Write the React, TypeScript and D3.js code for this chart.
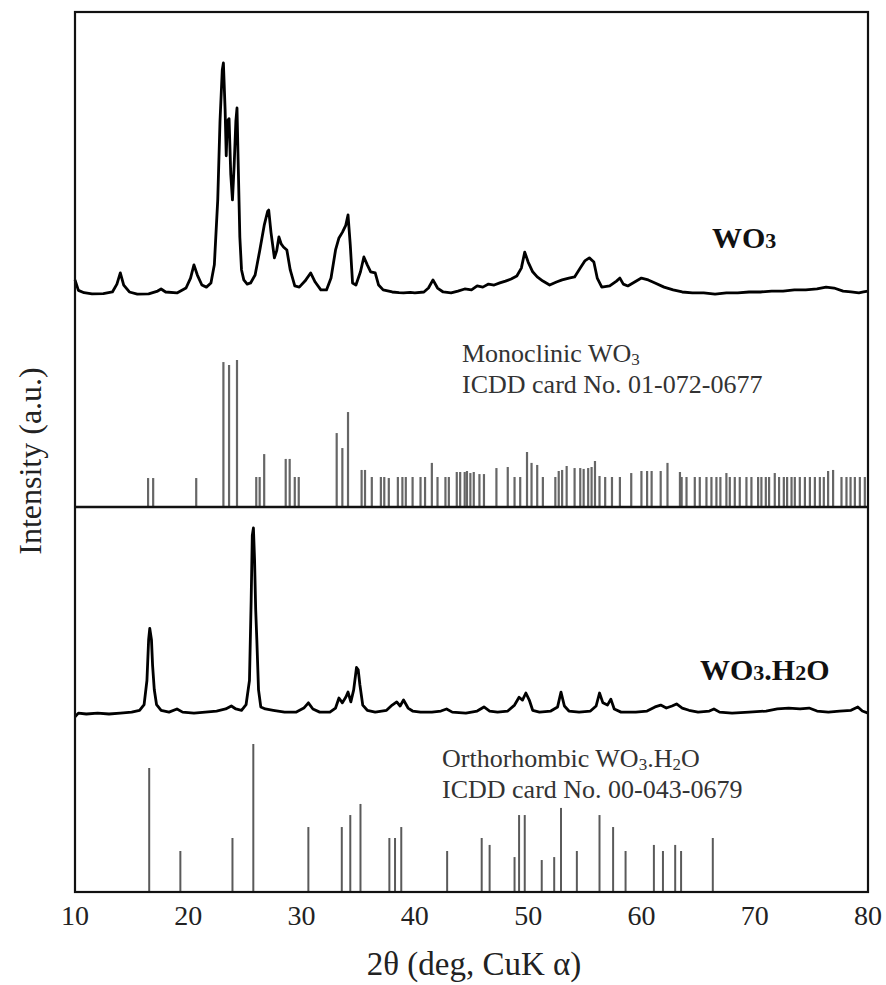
import React from "react";
import * as d3 from "d3";

// ---------- DATA ----------
const xTicks = [10, 20, 30, 40, 50, 60, 70, 80];

// Measured WO3 pattern (2θ, a.u.)
const wo3Theta = [10.0, 10.3, 10.8, 11.5, 12.5, 13.3, 13.7, 14.0, 14.3, 14.8, 15.5, 16.5, 17.3, 17.6, 18.0, 19.0, 19.8, 20.2, 20.5, 20.8, 21.2, 21.6, 22.0, 22.3, 22.6, 22.8, 23.0, 23.1, 23.25, 23.35, 23.45, 23.6, 23.75, 23.9, 24.05, 24.2, 24.3, 24.4, 24.55, 24.7, 24.9, 25.2, 25.5, 25.9, 26.3, 26.7, 27.0, 27.1, 27.3, 27.6, 27.8, 28.0, 28.2, 28.4, 28.7, 29.0, 29.4, 29.8, 30.3, 30.8, 31.2, 31.7, 32.2, 32.6, 33.0, 33.3, 33.6, 33.9, 34.1, 34.3, 34.5, 34.8, 35.2, 35.5, 35.8, 36.1, 36.5, 36.8, 37.2, 38.0, 38.6, 39.0, 39.6, 40.0, 40.8, 41.2, 41.6, 42.0, 42.5, 43.2, 43.8, 44.4, 45.0, 45.5, 46.0, 46.5, 47.0, 47.5, 48.0, 48.5, 49.0, 49.4, 49.7, 50.0, 50.4, 50.8, 51.3, 51.9, 52.5, 53.0, 53.6, 54.1, 54.6, 55.0, 55.4, 55.8, 56.1, 56.5, 57.2, 57.8, 58.1, 58.4, 58.8, 59.4, 60.0, 60.6, 61.2, 62.0, 62.8, 63.6, 64.5, 65.5, 66.5, 67.5, 68.5, 69.5, 70.5, 71.5, 72.5, 73.5, 74.5, 75.5, 76.3, 77.0, 77.8, 78.5, 79.2, 79.6, 80.0];
const wo3Intensity = [6.5, 2, 1, 0.5, 0.6, 1.3, 4.7, 9.5, 4.3, 1.3, 0.4, 0.5, 1.7, 2.6, 1.3, 0.9, 3, 7.3, 13, 8.6, 4.3, 3.4, 5.2, 13, 41, 75, 97, 100, 80, 60, 75, 76, 52, 41, 56, 75, 80.6, 58, 25, 10.8, 6.5, 4.7, 5.2, 8.6, 19, 30, 36, 36.6, 27, 16, 19, 25, 22, 20.7, 19.4, 10.8, 3.9, 3.4, 6, 9.5, 5.6, 2.2, 2.2, 7.3, 19.4, 24.6, 27, 30, 34.5, 21.5, 5.2, 4.3, 10, 16.4, 13, 10, 9.5, 4.3, 2.2, 1.3, 1.0, 0.9, 1.1, 0.9, 1.3, 3, 6.5, 3, 1.3, 0.9, 1.7, 2.6, 2.2, 3.9, 3.4, 4.7, 4.3, 5.2, 6, 6.9, 8.2, 11.6, 18.5, 14.2, 10, 7.8, 6, 4.3, 5.6, 6.5, 7.3, 7.8, 11.6, 14.7, 16, 14.2, 7.3, 3.4, 3.9, 6, 7.3, 4.7, 3.9, 5.6, 7.3, 6.5, 5.2, 3.4, 2.2, 1.3, 0.9, 0.9, 0.4, 0.9, 0.9, 1.3, 1.3, 1.7, 1.7, 2.2, 2.2, 2.6, 3.4, 3, 1.7, 1.3, 0.9, 1.3, 1.7];

// Monoclinic WO3 reference (ICDD 01-072-0677)
const monoTheta = [16.45, 16.9, 20.7, 23.1, 23.6, 24.3, 26.0, 26.3, 26.7, 28.6, 28.95, 29.4, 29.75, 33.1, 33.6, 34.1, 35.3, 35.6, 36.2, 37.0, 37.3, 37.7, 38.5, 38.9, 39.2, 39.8, 40.5, 40.9, 41.5, 42.0, 42.7, 43.0, 43.7, 44.0, 44.4, 44.6, 44.9, 45.2, 45.7, 46.1, 47.2, 48.2, 48.8, 49.3, 49.9, 50.3, 50.8, 51.3, 52.4, 52.7, 53.0, 53.4, 54.1, 54.6, 54.9, 55.3, 55.6, 55.9, 56.3, 56.8, 57.4, 58.1, 59.1, 60.0, 60.5, 60.9, 61.7, 62.3, 63.4, 63.55, 63.98, 64.71, 65.15, 65.74, 66.18, 66.62, 66.97, 67.5, 67.8, 68.24, 68.68, 69.27, 69.71, 70.3, 70.59, 70.98, 71.27, 71.77, 72.15, 72.57, 72.86, 73.25, 73.54, 73.98, 74.43, 74.87, 75.31, 75.75, 76.1, 76.48, 76.92, 77.66, 78.1, 78.46, 78.84, 79.28, 79.72];
const monoIntensity = [19.7, 19.7, 19.7, 98.6, 96.6, 100, 20.4, 20.4, 36, 32.7, 32.7, 20.4, 20.4, 50.3, 40.1, 64.6, 25.2, 25.2, 20.4, 20.4, 20.4, 19.7, 20.4, 20.4, 20.4, 20.4, 20.4, 20.4, 30, 20.4, 20.4, 20.4, 23.8, 23.8, 23.8, 24.5, 23.1, 23.8, 22.4, 22.4, 26.5, 27.2, 20.4, 20.4, 37.4, 30, 28.6, 20.4, 20.4, 24.5, 25.2, 27.9, 26.5, 26.5, 25.9, 26.5, 27.2, 31.3, 21.1, 20.4, 20.4, 20.4, 23.1, 24.5, 24.5, 24.5, 24.5, 30, 23.8, 20.4, 20.4, 20.4, 20.4, 20.4, 20.4, 20.4, 20.4, 23.1, 20.4, 20.4, 20.4, 20.4, 20.4, 20.4, 20.4, 20.4, 20.4, 23.1, 20.4, 20.4, 20.4, 20.4, 20.4, 20.4, 20.4, 20.4, 20.4, 20.4, 20.4, 24.5, 25.2, 20.4, 20.4, 20.4, 20.4, 20.4, 20.4];

// Measured WO3.H2O pattern (2θ, a.u.)
const hydTheta = [10.0, 10.3, 11.0, 12.0, 13.0, 14.0, 15.0, 15.7, 16.1, 16.35, 16.5, 16.6, 16.75, 16.85, 17.0, 17.2, 17.6, 18.3, 19.0, 19.5, 20.5, 21.5, 22.5, 23.3, 23.8, 24.2, 24.7, 25.1, 25.4, 25.55, 25.65, 25.75, 25.85, 25.95, 26.05, 26.2, 26.4, 26.8, 27.5, 28.5, 29.5, 30.2, 30.6, 31.0, 31.6, 32.5, 33.0, 33.3, 33.6, 33.9, 34.1, 34.35, 34.6, 34.85, 35.0, 35.15, 35.4, 35.8, 36.5, 37.5, 38.0, 38.4, 38.7, 39.0, 39.4, 39.8, 40.5, 41.5, 42.3, 42.8, 43.3, 44.5, 45.5, 46.1, 46.6, 47.3, 48.2, 48.8, 49.2, 49.5, 49.8, 50.1, 50.4, 51.0, 52.0, 52.6, 52.9, 53.2, 53.6, 54.5, 55.5, 56.0, 56.3, 56.6, 57.0, 57.3, 57.6, 58.2, 59.5, 60.5, 61.2, 61.7, 62.2, 62.7, 63.1, 63.6, 64.2, 65.0, 66.0, 66.4, 66.9, 68.0, 69.5, 71.0, 72.0, 73.0, 74.0, 74.8, 75.5, 76.5, 77.5, 78.5, 79.1, 79.5, 80.0];
const hydIntensity = [-1.5, 0.5, 0, 0.5, 0, 0.5, 1, 2, 5, 18, 40, 46, 40, 26, 13, 5, 2, 1, 2.7, 1, 0.5, 1, 1.6, 2.7, 4.3, 2.7, 2, 5, 18, 61, 96, 100, 83, 56, 40, 13, 3.8, 2.7, 2, 1, 1, 3.2, 6, 2.7, 1, 1, 3.2, 8.6, 6, 9, 11.8, 6.5, 13, 25, 23.7, 15.6, 4.8, 2, 1, 2, 4.8, 6.5, 4.3, 7.5, 3.2, 1.6, 1, 1, 1.6, 2.7, 1, 0.5, 1.6, 3.8, 1.6, 1, 1.6, 4.8, 9, 7.5, 11.3, 7.5, 2, 1, 1.6, 3.8, 11.8, 4.3, 1.6, 1, 1.6, 4.3, 11.3, 6, 4.8, 8, 2.7, 1, 1, 1.6, 3.8, 4.8, 3.2, 4.3, 5.4, 3.2, 2, 1, 1.6, 2.7, 1, 0.5, 1, 1.6, 2.7, 3.2, 2.7, 3.2, 1.6, 1, 1.6, 2, 3.8, 1.6, 0.5];

// Orthorhombic WO3.H2O reference (ICDD 00-043-0679)
const orthoTheta = [16.55, 19.3, 23.9, 25.74, 30.6, 33.55, 34.3, 35.2, 37.75, 38.25, 38.8, 42.85, 45.9, 46.6, 48.8, 49.2, 49.7, 51.2, 52.3, 52.9, 54.3, 56.3, 57.5, 58.6, 61.1, 61.9, 62.98, 63.5, 66.3];
const orthoIntensity = [83.8, 27.7, 36.5, 100, 43.9, 43.9, 52, 59.5, 36.5, 36.5, 43.9, 27.7, 36.5, 31.8, 23.6, 52, 52, 21.6, 23.6, 56.8, 27.7, 52, 43.9, 27.7, 31.8, 27.7, 31.8, 27.7, 36.5];

// ---------- CHART ----------
const W = 886;
const H = 985;
const left = 75;
const right = 868;
const top = 12;
const mid = 507;
const bottom = 892;
const serif = "'Liberation Serif', 'Times New Roman', serif";

export default function App() {
  const x = d3.scaleLinear().domain([10, 80]).range([left, right]);
  const yWO3 = d3.scaleLinear().domain([0, 100]).range([295, 63]);
  const yMono = d3.scaleLinear().domain([0, 100]).range([mid, 360]);
  const yHyd = d3.scaleLinear().domain([0, 100]).range([714, 528]);
  const yOrtho = d3.scaleLinear().domain([0, 100]).range([bottom, 744]);

  const wo3Line = d3
    .line<number>()
    .x((_, i) => x(wo3Theta[i]))
    .y((d) => yWO3(d))(wo3Intensity) as string;
  const hydLine = d3
    .line<number>()
    .x((_, i) => x(hydTheta[i]))
    .y((d) => yHyd(d))(hydIntensity) as string;

  return (
    <svg
      width={W}
      height={H}
      style={{ position: "absolute", left: 0, top: 0, background: "#fff" }}
      fontFamily={serif}
    >
      <rect x={0} y={0} width={W} height={H} fill="#fff" />
      {/* sticks */}
      <g stroke="#666" strokeWidth={2.2}>
        {monoTheta.map((t, i) => (
          <line key={"m" + i} x1={x(t)} x2={x(t)} y1={yMono(0)} y2={yMono(monoIntensity[i])} />
        ))}
      </g>
      <g stroke="#5a5a5a" strokeWidth={2}>
        {orthoTheta.map((t, i) => (
          <line key={"o" + i} x1={x(t)} x2={x(t)} y1={yOrtho(0)} y2={yOrtho(orthoIntensity[i])} />
        ))}
      </g>
      {/* patterns */}
      <path d={wo3Line} fill="none" stroke="#000" strokeWidth={2.8} strokeLinejoin="round" />
      <path d={hydLine} fill="none" stroke="#000" strokeWidth={2.8} strokeLinejoin="round" />

      {/* frame */}
      <rect x={left} y={top} width={right - left} height={bottom - top} fill="none" stroke="#111" strokeWidth={2.2} />
      <line x1={left} x2={right} y1={mid} y2={mid} stroke="#111" strokeWidth={2.4} />

      {/* x tick labels */}
      {xTicks.map((t) => (
        <text key={t} x={x(t)} y={925} fontSize={28} textAnchor="middle" fill="#222">
          {t}
        </text>
      ))}
      <text x={474} y={975} fontSize={33} textAnchor="middle" fill="#222">
        2θ (deg, CuK α)
      </text>
      <text
        transform="translate(41,461) rotate(-90)"
        fontSize={32}
        textAnchor="middle"
        fill="#222"
      >
        Intensity (a.u.)
      </text>

      {/* labels */}
      <text x={712} y={248} fontSize={30} fontWeight="bold" fill="#111">
        WO<tspan fontSize={22}>3</tspan>
      </text>
      <text x={700} y={680} fontSize={30} fontWeight="bold" fill="#111">
        WO<tspan fontSize={22}>3</tspan>.H<tspan fontSize={22}>2</tspan>O
      </text>
      <g fontSize={26} fill="#333">
        <text x={462} y={362}>
          Monoclinic WO<tspan fontSize={17} baselineShift="-3">3</tspan>
        </text>
        <text x={462} y={393}>ICDD card No. 01-072-0677</text>
        <text x={442} y={767}>
          Orthorhombic WO<tspan fontSize={17} baselineShift="-3">3</tspan>.H
          <tspan fontSize={17} baselineShift="-3">2</tspan>O
        </text>
        <text x={442} y={798}>ICDD card No. 00-043-0679</text>
      </g>
    </svg>
  );
}
